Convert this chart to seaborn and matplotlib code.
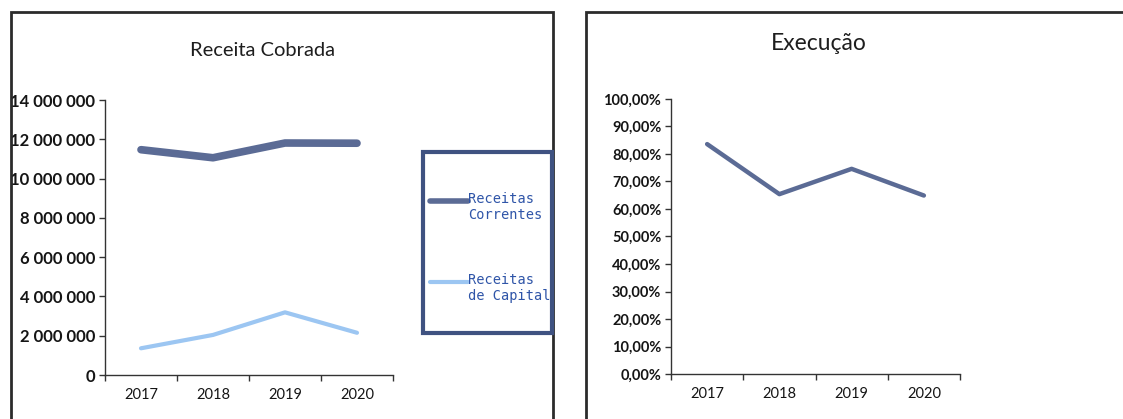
import matplotlib
matplotlib.use("Agg")
import matplotlib.pyplot as plt
from matplotlib.patches import Rectangle
from matplotlib.ticker import FuncFormatter, FixedLocator
import seaborn as sns
import pandas as pd

# Data
anos = ["2017", "2018", "2019", "2020"]
receitas_correntes = [11_470_000, 11_060_000, 11_810_000, 11_800_000]
receitas_capital = [1_360_000, 2_040_000, 3_190_000, 2_150_000]
execucao = [0.836, 0.654, 0.746, 0.649]

serie_correntes = "Receitas\nCorrentes"
serie_capital = "Receitas\nde Capital"

sns.set_theme(style="white")
plt.rcParams["font.family"] = ["Lato", "DejaVu Sans"]

W, H = 1123, 419
fig = plt.figure(figsize=(W / 100, H / 100), dpi=100)
fig.patch.set_facecolor("white")


def fx(px):
    return px / W


def fy(py):
    return 1 - py / H


# Panel frames
fig.patches.append(Rectangle((fx(11), fy(425)), fx(553 - 11), (425 - 12) / H,
                             transform=fig.transFigure, fill=False,
                             edgecolor="#2b2b2b", linewidth=2.0))
fig.patches.append(Rectangle((fx(586), fy(425)), fx(1140 - 586), (425 - 12) / H,
                             transform=fig.transFigure, fill=False,
                             edgecolor="#2b2b2b", linewidth=2.0))

dark_line = "#5b6b95"
light_line = "#9cc6f2"
tick_color = "#151515"

pos = list(range(len(anos)))
df = pd.DataFrame({
    "pos": pos * 2,
    "valor": receitas_correntes + receitas_capital,
    "serie": [serie_correntes] * len(anos) + [serie_capital] * len(anos),
})


def style_axes(ax, ysize):
    sns.despine(ax=ax)
    for s in ("left", "bottom"):
        ax.spines[s].set_color("#333333")
        ax.spines[s].set_linewidth(1.0)
    ax.set_xlim(-0.5, len(anos) - 0.5)
    ax.set_xticks(pos)
    ax.set_xticklabels(anos)
    ax.xaxis.set_minor_locator(FixedLocator([i - 0.5 for i in range(len(anos) + 1)]))
    ax.tick_params(axis="x", which="major", length=0, labelsize=10.5, colors=tick_color, pad=9)
    ax.tick_params(axis="x", which="minor", length=4, width=1, color="#333333",
                   direction="out", bottom=True)
    ax.tick_params(axis="y", length=4, width=1, color="#333333", direction="out", left=True,
                   labelsize=ysize, labelcolor=tick_color, pad=3)
    ax.set_xlabel("")
    ax.set_ylabel("")
    ax.grid(False)
    ax.set_facecolor("none")
    for t in ax.get_yticklabels():
        t.set_fontweight("bold")


# Left chart: receita cobrada
ax1 = fig.add_axes([fx(105), fy(375), fx(393 - 105), (375 - 100) / H])
sns.lineplot(data=df, x="pos", y="valor", hue="serie",
             palette={serie_correntes: dark_line, serie_capital: light_line},
             ax=ax1, legend=False)
l_cor, l_cap = ax1.lines[0], ax1.lines[1]
l_cor.set_linewidth(5.5)
l_cap.set_linewidth(3)
for ln in (l_cor, l_cap):
    ln.set_solid_capstyle("round")
    ln.set_solid_joinstyle("round")
ax1.set_ylim(0, 14_000_000)
ax1.set_yticks(range(0, 14_000_001, 2_000_000))
ax1.yaxis.set_major_formatter(FuncFormatter(lambda v, p: f"{int(v):,}".replace(",", " ")))
style_axes(ax1, 12)

fig.text(fx(263), fy(50), "Receita Cobrada", ha="center", va="center",
         fontsize=14.5, color="#1e1e1e")

# Legend box
fig.patches.append(Rectangle((fx(423), fy(333)), fx(552 - 423), (333 - 152) / H,
                             transform=fig.transFigure, fill=False,
                             edgecolor="#3f5281", linewidth=3.0))
leg = ax1.legend([l_cor, l_cap], [serie_correntes, serie_capital],
                 loc="upper left", bbox_to_anchor=(fx(430), fy(192)),
                 bbox_transform=fig.transFigure,
                 prop={"family": "DejaVu Sans Mono", "size": 9.8},
                 labelcolor="#2f55a8", frameon=False,
                 borderpad=0, labelspacing=3.75, handlelength=2.8,
                 handletextpad=0.0, borderaxespad=0)
for h, w in zip(leg.legend_handles, (4, 3)):
    h.set_linewidth(w)
    yd = h.get_ydata()
    h.set_ydata([y + 5 for y in yd])

# Right chart: execução
ax2 = fig.add_axes([fx(671), fy(374), fx(960 - 671), (374 - 99) / H])
sns.lineplot(x=pos, y=execucao, color=dark_line, linewidth=3.2, ax=ax2, legend=False)
ax2.set_ylim(0, 1.0)
ax2.set_yticks([i / 10 for i in range(11)])
ax2.yaxis.set_major_formatter(FuncFormatter(lambda v, p: f"{v * 100:.2f}%".replace(".", ",")))
style_axes(ax2, 10.5)

fig.text(fx(819), fy(44), "Execução", ha="center", va="center",
         fontsize=16.5, color="#1e1e1e")

fig.savefig("out.png", dpi=100, facecolor="white")
